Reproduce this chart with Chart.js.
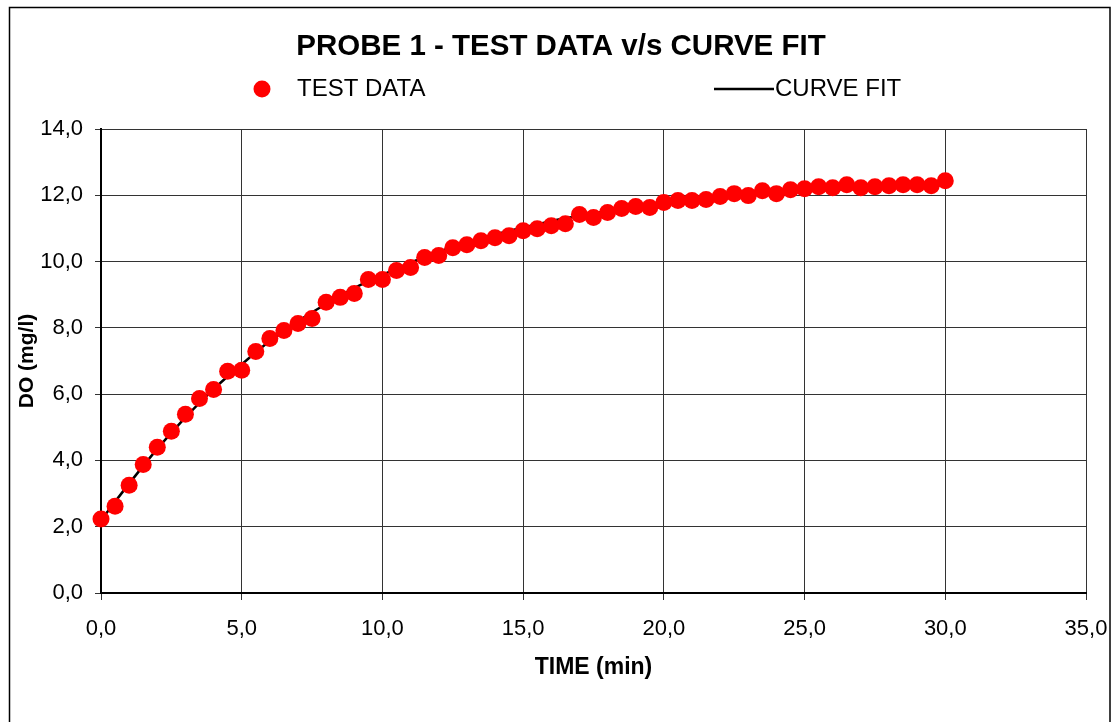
<!DOCTYPE html>
<html>
<head>
<meta charset="utf-8">
<title>PROBE 1 - TEST DATA v/s CURVE FIT</title>
<script src="https://cdn.jsdelivr.net/npm/chart.js@4.4.0/dist/chart.umd.min.js"></script>
<style>
  html, body { margin: 0; padding: 0; background: #fff; }
  #wrap { width: 1115px; height: 722px; position: relative; }
</style>
</head>
<body>
<div id="wrap"><canvas id="probeChart"></canvas></div>
<script>
// test data (min, mg/l)
const testTime = [0, 0.5, 1, 1.5, 2, 2.5, 3, 3.5, 4, 4.5, 5, 5.5, 6, 6.5, 7, 7.5, 8, 8.5, 9, 9.5,
    10, 10.5, 11, 11.5, 12, 12.5, 13, 13.5, 14, 14.5, 15, 15.5, 16, 16.5, 17, 17.5, 18, 18.5, 19, 19.5,
    20, 20.5, 21, 21.5, 22, 22.5, 23, 23.5, 24, 24.5, 25, 25.5, 26, 26.5, 27, 27.5, 28, 28.5, 29, 29.5, 30];
const testDO = [2.23, 2.62, 3.25, 3.88, 4.40, 4.88, 5.39, 5.87, 6.14, 6.69, 6.72, 7.29, 7.68, 7.92, 8.13, 8.28, 8.77, 8.92, 9.04, 9.46,
    9.46, 9.73, 9.82, 10.12, 10.18, 10.42, 10.51, 10.63, 10.72, 10.78, 10.93, 10.99, 11.08, 11.14, 11.42, 11.33, 11.48, 11.60, 11.66, 11.63,
    11.78, 11.84, 11.84, 11.87, 11.96, 12.05, 11.99, 12.14, 12.05, 12.17, 12.20, 12.26, 12.23, 12.32, 12.23, 12.26, 12.29, 12.32, 12.32, 12.29, 12.44];

// curve fit
const fitTime = [0, 1, 2, 3, 4, 5, 6, 7, 8, 9, 10, 11, 12, 13, 14, 15, 16, 17, 18, 19, 20,
    21, 22, 23, 24, 25, 26, 27, 28, 29, 30];
const fitDO = [2.20, 3.30, 4.35, 5.30, 6.15, 6.90, 7.60, 8.20, 8.72, 9.20, 9.60, 9.97, 10.30, 10.58, 10.82, 11.03, 11.22, 11.38, 11.52, 11.65, 11.76,
    11.85, 11.93, 12.00, 12.06, 12.12, 12.17, 12.21, 12.25, 12.28, 12.31];

const xTicks = [0, 5, 10, 15, 20, 25, 30, 35];
const yTicks = [0, 2, 4, 6, 8, 10, 12, 14];

const FONT = '"Liberation Sans", Arial, sans-serif';
const fmt = v => Number(v).toFixed(1).replace('.', ',');

// title, legend and the outer frame
const frameAndLegend = {
    id: 'frameAndLegend',
    beforeDraw(chart) {
        const c = chart.ctx;
        c.save();
        c.strokeStyle = '#000';
        c.lineWidth = 1.5;
        c.strokeRect(9.5, 7.5, 1100.5, 730);
        c.restore();
    },
    afterDraw(chart) {
        const c = chart.ctx;
        c.save();
        c.fillStyle = '#000';
        c.textBaseline = 'middle';
        c.textAlign = 'center';
        c.font = 'bold 29.5px ' + FONT;
        c.fillText('PROBE 1 - TEST DATA v/s CURVE FIT', 561, 47);

        c.font = '24px ' + FONT;
        c.textAlign = 'left';
        // test data marker
        c.fillStyle = '#ff0000';
        c.beginPath();
        c.arc(262, 89, 8.5, 0, Math.PI * 2);
        c.fill();
        c.fillStyle = '#000';
        c.fillText('TEST DATA', 297, 89);
        // curve fit line
        c.strokeStyle = '#000';
        c.lineWidth = 2.5;
        c.beginPath();
        c.moveTo(714, 89);
        c.lineTo(774, 89);
        c.stroke();
        c.fillText('CURVE FIT', 775, 89);
        c.restore();
    }
};

new Chart(document.getElementById('probeChart'), {
    type: 'scatter',
    data: {
        datasets: [
            {
                label: 'TEST DATA',
                data: testTime.map((t, i) => ({ x: t, y: testDO[i] })),
                backgroundColor: '#ff0000',
                borderColor: '#ff0000',
                borderWidth: 0,
                pointRadius: 8.5,
                clip: false,
                order: 0
            },
            {
                label: 'CURVE FIT',
                type: 'line',
                data: fitTime.map((t, i) => ({ x: t, y: fitDO[i] })),
                borderColor: '#000',
                borderWidth: 2.5,
                pointRadius: 0,
                tension: 0.4,
                fill: false,
                order: 1
            }
        ]
    },
    options: {
        responsive: true,
        maintainAspectRatio: false,
        animation: false,
        layout: {
            padding: { top: 129, right: 29, left: 0, bottom: 0 }
        },
        plugins: {
            legend: { display: false },
            title: { display: false },
            tooltip: { enabled: false }
        },
        scales: {
            x: {
                type: 'linear',
                min: 0,
                max: 35,
                afterFit: s => {
                    s.height = 129;
                    s.paddingLeft = 0;
                    s.paddingRight = 0;
                },
                afterBuildTicks: s => { s.ticks = xTicks.map(v => ({ value: v })); },
                grid: { color: '#333', lineWidth: 1, tickLength: 7 },
                border: { color: '#000', width: 2 },
                ticks: {
                    color: '#000',
                    font: { family: FONT, size: 22 },
                    padding: 16,
                    maxRotation: 0,
                    callback: v => fmt(v)
                },
                title: {
                    display: true,
                    text: 'TIME (min)',
                    color: '#000',
                    font: { family: FONT, size: 23, weight: 'bold' },
                    padding: { top: 0, bottom: 41 }
                }
            },
            y: {
                min: 0,
                max: 14,
                afterFit: s => { s.width = 101; },
                afterBuildTicks: s => { s.ticks = yTicks.map(v => ({ value: v })); },
                grid: { color: '#333', lineWidth: 1, tickLength: 6 },
                border: { color: '#000', width: 2 },
                ticks: {
                    color: '#000',
                    font: { family: FONT, size: 22 },
                    padding: 12,
                    callback: v => fmt(v)
                },
                title: {
                    display: true,
                    text: 'DO (mg/l)',
                    color: '#000',
                    font: { family: FONT, size: 21, weight: 'bold' },
                    padding: { top: 15, bottom: 0 }
                }
            }
        }
    },
    plugins: [frameAndLegend]
});
</script>
</body>
</html>
